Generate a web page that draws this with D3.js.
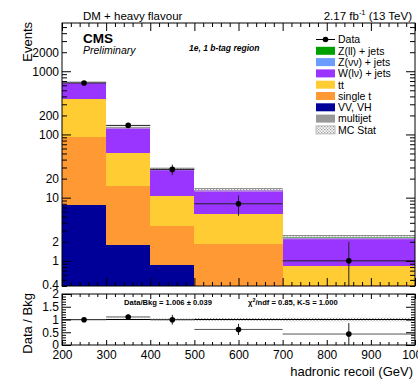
<!DOCTYPE html>
<html>
<head>
<meta charset="utf-8">
<script src="https://cdn.jsdelivr.net/npm/d3@7"></script>
<style>
body { margin: 0; background: #fff; }
text { font-family: "Liberation Sans", Arial, sans-serif; }
</style>
</head>
<body>
<script>
// bins in hadronic recoil (GeV)
let binEdges = [200, 300, 400, 500, 700, 1000];

// stacked backgrounds, bottom to top
let multijet = [0.3, 0.05, 0.02, 0.01, 0.01];
let vvvh     = [7.4, 1.75, 0.84, 0.2, 0.1];
let singleT  = [85, 13.5, 2.75, 1.67, 0.3];
let ttbar    = [267, 35, 7.2, 3.6, 0.42];
let wjets    = [300, 75, 17.2, 7.6, 1.5];
let znunu    = [1.2, 0.3, 0.08, 0.03, 0.01];
let zll      = [0.8, 0.2, 0.05, 0.02, 0.01];
let mcStatRel = [0.02, 0.03, 0.04, 0.06, 0.07];

let dataCounts = [653, 139, 28, 8, 1];
let dataErr    = [25.6, 11.8, 5.3, 2.83, 1];

let ratioVals = [0.99, 1.10, 0.99, 0.61, 0.43];
let ratioErr  = [0.04, 0.09, 0.19, 0.22, 0.43];

let yLabels = [0.4, 1, 2, 10, 20, 100, 200, 1000, 2000];
let xLabels = [200, 300, 400, 500, 600, 700, 800, 900, 1000];
let ratioLabels = [0, 0.5, 1, 1.5, 2];

let keys = ["multijet", "vvvh", "singleT", "ttbar", "wjets", "znunu", "zll"];
let colors = {
    zll: "#00a000",
    znunu: "#6b9cff",
    wjets: "#9a35ff",
    ttbar: "#ffcc33",
    singleT: "#ff9933",
    vvvh: "#000099",
    multijet: "#999999"
};
let legendItems = [
    ["data", "Data"],
    ["zll", "Z(ll) + jets"],
    ["znunu", "Z(νν) + jets"],
    ["wjets", "W(lν) + jets"],
    ["ttbar", "tt"],
    ["singleT", "single t"],
    ["vvvh", "VV, VH"],
    ["multijet", "multijet"],
    ["mcstat", "MC Stat"]
];

let table = binEdges.slice(0, -1).map((lo, i) => ({
    lo: lo, hi: binEdges[i + 1],
    multijet: multijet[i], vvvh: vvvh[i], singleT: singleT[i], ttbar: ttbar[i],
    wjets: wjets[i], znunu: znunu[i], zll: zll[i]
}));
let totals = table.map(d => keys.reduce((s, k) => s + d[k], 0));

let width = 418, height = 381;
let frame = {left: 62, right: 415, top: 23, bottom: 286};
let rframe = {top: 294, bottom: 345};

let x = d3.scaleLinear().domain([200, 1000]).range([frame.left, frame.right]);
let y = d3.scaleLog().domain([0.4, 5800]).range([frame.bottom, frame.top]).clamp(true);
let yr = d3.scaleLinear().domain([0, 2]).range([rframe.bottom, rframe.top]).clamp(true);
let yv = v => v <= 0 ? frame.bottom : y(v);

let svg = d3.select("body").append("svg")
    .attr("width", width)
    .attr("height", height);

let defs = svg.append("defs");
let pat = defs.append("pattern")
    .attr("id", "hatch")
    .attr("patternUnits", "userSpaceOnUse")
    .attr("width", 3).attr("height", 3);
pat.append("rect").attr("width", 3).attr("height", 3).attr("fill", "#fff").attr("fill-opacity", 0.35);
pat.append("rect").attr("x", 0).attr("y", 0).attr("width", 1.3).attr("height", 1.3).attr("fill", "#9a9a9a");
pat.append("rect").attr("x", 1.5).attr("y", 1.5).attr("width", 1.3).attr("height", 1.3).attr("fill", "#9a9a9a");

defs.append("clipPath").attr("id", "mainclip")
    .append("rect").attr("x", frame.left).attr("y", frame.top)
    .attr("width", frame.right - frame.left).attr("height", frame.bottom - frame.top);

// ---------- main panel ----------
let stack = d3.stack().keys(keys)(table);
let plot = svg.append("g").attr("clip-path", "url(#mainclip)");

stack.forEach(layer => {
    plot.append("g")
        .attr("fill", colors[layer.key])
        .selectAll("rect")
        .data(layer)
        .join("rect")
        .attr("shape-rendering", "crispEdges")
        .attr("x", d => x(d.data.lo))
        .attr("width", d => x(d.data.hi) - x(d.data.lo))
        .attr("y", d => yv(d[1]))
        .attr("height", d => Math.max(0, yv(d[0]) - yv(d[1])));
});

// MC stat band
table.forEach((d, i) => {
    let t = totals[i], e = mcStatRel[i];
    plot.append("rect")
        .attr("x", x(d.lo)).attr("width", x(d.hi) - x(d.lo))
        .attr("y", y(t * (1 + e)))
        .attr("height", y(t * (1 - e)) - y(t * (1 + e)))
        .attr("fill", "url(#hatch)");
    plot.append("line")
        .attr("x1", x(d.lo)).attr("x2", x(d.hi))
        .attr("y1", y(t * (1 + e))).attr("y2", y(t * (1 + e)))
        .attr("stroke", "#8c8c8c").attr("stroke-width", 1);
});

// data points
table.forEach((d, i) => {
    let cx = x((d.lo + d.hi) / 2), cy = y(dataCounts[i]);
    plot.append("line")
        .attr("x1", x(d.lo)).attr("x2", x(d.hi))
        .attr("y1", cy).attr("y2", cy)
        .attr("stroke", "#222").attr("stroke-width", 1);
    plot.append("line")
        .attr("x1", cx).attr("x2", cx)
        .attr("y1", yv(dataCounts[i] + dataErr[i]))
        .attr("y2", yv(dataCounts[i] - dataErr[i]))
        .attr("stroke", "#222").attr("stroke-width", 1);
    plot.append("circle")
        .attr("cx", cx).attr("cy", cy).attr("r", 2.8).attr("fill", "#000");
});

// axes for main panel
let isDecade = d => Math.abs(Math.log10(d) - Math.round(Math.log10(d))) < 1e-9;
let hasLabel = (list, d) => list.some(v => Math.abs(v - d) < 1e-9);

let yAxis = d3.axisLeft(y)
    .tickValues(y.ticks())
    .tickFormat(d => hasLabel(yLabels, d) ? d3.format("")(d) : "")
    .tickSize(0).tickPadding(3);
let gy = svg.append("g").attr("transform", `translate(${frame.left},0)`).call(yAxis);
gy.selectAll(".tick line").attr("x2", d => isDecade(d) ? 9 : 5);

let gy2 = svg.append("g").attr("transform", `translate(${frame.right},0)`)
    .call(d3.axisRight(y).tickValues(y.ticks()).tickFormat("").tickSize(0));
gy2.selectAll(".tick line").attr("x2", d => isDecade(d) ? -9 : -5);

let xTicks = d3.range(200, 1001, 20);
let isMajorX = d => d % 100 === 0;

let gxb = svg.append("g").attr("transform", `translate(0,${frame.bottom})`)
    .call(d3.axisBottom(x).tickValues(xTicks).tickFormat("").tickSize(0));
gxb.selectAll(".tick line").attr("y2", d => isMajorX(d) ? -8 : -4);
let gxt = svg.append("g").attr("transform", `translate(0,${frame.top})`)
    .call(d3.axisTop(x).tickValues(xTicks).tickFormat("").tickSize(0));
gxt.selectAll(".tick line").attr("y2", d => isMajorX(d) ? 8 : 4);

// ---------- ratio panel ----------
let rplot = svg.append("g");
table.forEach((d, i) => {
    let e = mcStatRel[i];
    rplot.append("rect")
        .attr("x", x(d.lo)).attr("width", x(d.hi) - x(d.lo))
        .attr("y", yr(1 + e)).attr("height", yr(1 - e) - yr(1 + e))
        .attr("fill", "url(#hatch)");
});
rplot.append("line")
    .attr("x1", x(200)).attr("x2", x(1000))
    .attr("y1", yr(1)).attr("y2", yr(1))
    .attr("stroke", "#000").attr("stroke-width", 1);

table.forEach((d, i) => {
    let cx = x((d.lo + d.hi) / 2), cy = yr(ratioVals[i]);
    rplot.append("line")
        .attr("x1", x(d.lo)).attr("x2", x(d.hi))
        .attr("y1", cy).attr("y2", cy)
        .attr("stroke", "#555").attr("stroke-width", 1);
    rplot.append("line")
        .attr("x1", cx).attr("x2", cx)
        .attr("y1", yr(ratioVals[i] + ratioErr[i]))
        .attr("y2", yr(ratioVals[i] - ratioErr[i]))
        .attr("stroke", "#222").attr("stroke-width", 1);
    rplot.append("circle")
        .attr("cx", cx).attr("cy", cy).attr("r", 2.8).attr("fill", "#000");
});

let rTicks = d3.range(0, 2.001, 0.1).map(v => +v.toFixed(1));
let isMajorR = d => Math.abs(d * 2 - Math.round(d * 2)) < 1e-9;

let gry = svg.append("g").attr("transform", `translate(${frame.left},0)`)
    .call(d3.axisLeft(yr).tickValues(rTicks)
        .tickFormat(d => hasLabel(ratioLabels, d) ? d3.format("")(d) : "")
        .tickSize(0).tickPadding(3));
gry.selectAll(".tick line").attr("x2", d => isMajorR(d) ? 9 : 4);

let gry2 = svg.append("g").attr("transform", `translate(${frame.right},0)`)
    .call(d3.axisRight(yr).tickValues(rTicks).tickFormat("").tickSize(0));
gry2.selectAll(".tick line").attr("x2", d => isMajorR(d) ? -9 : -4);

let grx = svg.append("g").attr("transform", `translate(0,${rframe.bottom})`)
    .call(d3.axisBottom(x).tickValues(xTicks)
        .tickFormat(d => hasLabel(xLabels, d) ? d : "")
        .tickSize(0).tickPadding(4));
grx.selectAll(".tick line").attr("y2", d => isMajorX(d) ? -5 : -3);
let grxt = svg.append("g").attr("transform", `translate(0,${rframe.top})`)
    .call(d3.axisTop(x).tickValues(xTicks).tickFormat("").tickSize(0));
grxt.selectAll(".tick line").attr("y2", d => isMajorX(d) ? 5 : 3);

svg.selectAll(".domain").remove();
svg.selectAll(".tick line").attr("stroke", "#000");
svg.selectAll(".tick text")
    .attr("font-family", "'Liberation Sans', Arial, sans-serif")
    .attr("font-size", 12)
    .attr("fill", "#000");
grx.selectAll(".tick text").attr("dy", "0.8em");
gy.selectAll(".tick text").filter(d => Math.abs(d - 0.4) < 1e-9).attr("dy", "0.2em");

// frames
svg.append("rect")
    .attr("x", frame.left).attr("y", frame.top)
    .attr("width", frame.right - frame.left).attr("height", frame.bottom - frame.top)
    .attr("fill", "none").attr("stroke", "#000").attr("stroke-width", 1);
svg.append("rect")
    .attr("x", frame.left).attr("y", rframe.top)
    .attr("width", frame.right - frame.left).attr("height", rframe.bottom - rframe.top)
    .attr("fill", "none").attr("stroke", "#000").attr("stroke-width", 1);

// ---------- legend ----------
let legend = svg.append("g").attr("font-size", 10.5);
legendItems.forEach((item, i) => {
    let ly = 39.5 + i * 11.3;
    let key = item[0];
    if (key === "data") {
        legend.append("line").attr("x1", 316).attr("x2", 335).attr("y1", ly).attr("y2", ly)
            .attr("stroke", "#000");
        legend.append("circle").attr("cx", 325.5).attr("cy", ly).attr("r", 2.8).attr("fill", "#000");
    } else if (key === "mcstat") {
        legend.append("rect").attr("x", 316).attr("y", ly - 4).attr("width", 19).attr("height", 8)
            .attr("fill", "url(#hatch)").attr("stroke", "#aaa").attr("stroke-width", 0.8);
    } else {
        legend.append("rect").attr("x", 316).attr("y", ly - 4).attr("width", 19).attr("height", 8)
            .attr("fill", colors[key]);
    }
    legend.append("text").attr("x", 338).attr("y", ly + 3.8).text(item[1]);
});

// ---------- texts ----------
svg.append("text").attr("x", 83).attr("y", 19.5).attr("font-size", 11.5).text("DM + heavy flavour");
let lumi = svg.append("text").attr("x", 412).attr("y", 19.5).attr("font-size", 11.5)
    .attr("text-anchor", "end");
lumi.append("tspan").text("2.17 fb");
lumi.append("tspan").attr("font-size", 7.5).attr("dy", -4.5).text("-1");
lumi.append("tspan").attr("dy", 4.5).text("  (13 TeV)");

svg.append("text").attr("x", 83).attr("y", 42.5).attr("font-size", 13.5)
    .attr("font-weight", "bold").text("CMS");
svg.append("text").attr("x", 83).attr("y", 54).attr("font-size", 10.5)
    .attr("font-style", "italic").text("Preliminary");
svg.append("text").attr("x", 189).attr("y", 50.5).attr("font-size", 8.5)
    .attr("font-weight", "bold").attr("font-style", "italic").text("1e, 1 b-tag region");

svg.append("text")
    .attr("transform", "translate(32,22) rotate(-90)")
    .attr("text-anchor", "end").attr("font-size", 13).text("Events");
svg.append("text")
    .attr("transform", "translate(32,293) rotate(-90)")
    .attr("text-anchor", "end").attr("font-size", 13).text("Data / Bkg");
svg.append("text").attr("x", 413).attr("y", 375.5).attr("text-anchor", "end")
    .attr("font-size", 13).text("hadronic recoil (GeV)");

svg.append("text").attr("x", 124).attr("y", 304.5).attr("font-size", 7.6)
    .attr("font-weight", "bold").text("Data/Bkg = 1.006 ± 0.039");
let chi = svg.append("text").attr("x", 248).attr("y", 304.5).attr("font-size", 7.6)
    .attr("font-weight", "bold");
chi.append("tspan").text("χ");
chi.append("tspan").attr("font-size", 5.5).attr("dy", -3).text("2");
chi.append("tspan").attr("dy", 3).text("/ndf = 0.85,   K-S = 1.000");
</script>
</body>
</html>
